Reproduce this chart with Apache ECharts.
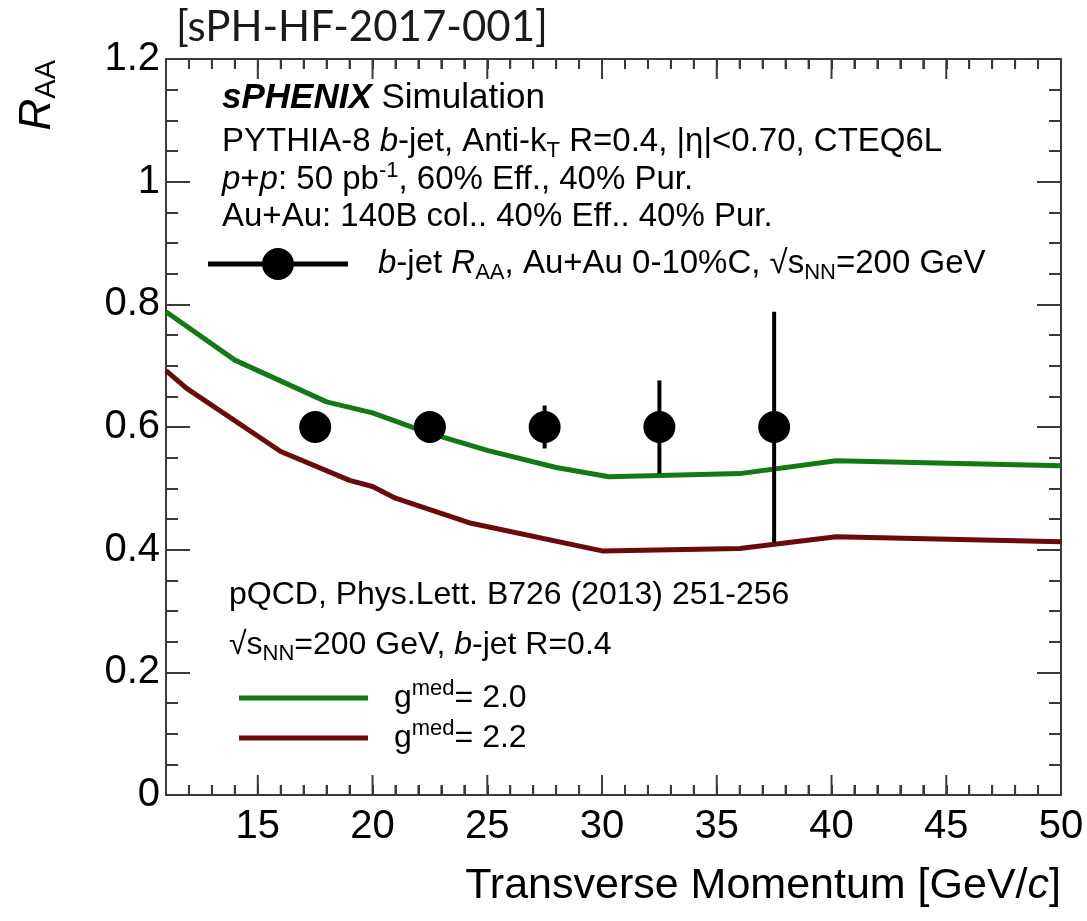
<!DOCTYPE html>
<html>
<head>
<meta charset="utf-8">
<script src="https://cdn.jsdelivr.net/npm/echarts@6/dist/echarts.min.js"></script>
<style>
  html, body { margin: 0; padding: 0; background: #fff; }
  #chart { width: 1087px; height: 921px; }
</style>
</head>
<body>
<div id="chart"></div>
<script>
// b-jet R_AA points (Au+Au 0-10% central) with statistical errors
const ptX   = [17.5, 22.5, 27.5, 32.5, 37.5];
const ptY   = [0.60, 0.60, 0.60, 0.60, 0.60];
const ptErr = [0.010, 0.020, 0.035, 0.076, 0.188];

// pQCD curves, g_med = 2.0 and g_med = 2.2
const g20X = [11, 14, 18, 20, 22.3, 25, 28, 30.3, 36, 40.2, 50];
const g20Y = [0.788, 0.709, 0.641, 0.623, 0.592, 0.562, 0.534, 0.519, 0.524, 0.545, 0.537];
const g22X = [11, 11.9, 16, 19, 20, 21, 24.3, 30, 36, 40.2, 50];
const g22Y = [0.692, 0.663, 0.560, 0.513, 0.503, 0.484, 0.443, 0.398, 0.402, 0.421, 0.413];

// axis ranges and tick values
const xMin = 11, xMax = 50;
const xMajorTicks = [15, 20, 25, 30, 35, 40, 45, 50];
const xMinorTicks = [12, 13, 14, 16, 17, 18, 19, 21, 22, 23, 24, 26, 27, 28, 29,
                     31, 32, 33, 34, 36, 37, 38, 39, 41, 42, 43, 44, 46, 47, 48, 49];
const yMin = 0, yMax = 1.2, yStep = 0.2;

const FONT = 'Liberation Sans, Arial, Helvetica, sans-serif';
const GREEN = '#137a13';
const DARKRED = '#6a0b0b';
const FRAME = '#3a3a3a';

const chart = echarts.init(document.getElementById('chart'));

function frameX(position, showLabel) {
  return {
    type: 'value', position, min: xMin, max: xMax, interval: 1,
    axisLine: { show: true, onZero: false, lineStyle: { color: FRAME, width: 2 } },
    axisTick: { show: true, inside: true, length: 10, lineStyle: { color: FRAME, width: 2 } },
    axisLabel: showLabel ? {
      show: true, customValues: xMajorTicks, margin: 12,
      fontFamily: FONT, fontSize: 40, color: '#000'
    } : { show: false },
    splitLine: { show: false }
  };
}
function frameY(position, showLabel) {
  return {
    type: 'value', position, min: yMin, max: yMax, interval: yStep,
    axisLine: { show: true, lineStyle: { color: FRAME, width: 2 } },
    axisTick: { show: true, inside: true, length: 24, lineStyle: { color: FRAME, width: 2 } },
    minorTick: { show: true, splitNumber: 4, length: 12, lineStyle: { color: FRAME, width: 2 } },
    axisLabel: showLabel ? {
      show: true, margin: 6, fontFamily: FONT, fontSize: 40, color: '#000'
    } : { show: false },
    splitLine: { show: false }
  };
}

// x tick marks on the bottom and top frame edges, placed through the axis scale
function xTickSeries(ticks, len) {
  return {
    type: 'custom', z: 6,
    data: ticks.map(v => [v, yMin]),
    renderItem: (params, api) => {
      const b = api.coord([api.value(0), yMin]);
      const t = api.coord([api.value(0), yMax]);
      return {
        type: 'group',
        children: [
          { type: 'line', shape: { x1: b[0], y1: b[1], x2: b[0], y2: b[1] - len },
            style: { stroke: FRAME, lineWidth: 2 } },
          { type: 'line', shape: { x1: t[0], y1: t[1], x2: t[0], y2: t[1] + len },
            style: { stroke: FRAME, lineWidth: 2 } }
        ]
      };
    }
  };
}

function makeRich(size) {
  const sub = Math.round(size * 0.68);
  return {
    i:   { fontFamily: FONT, fontSize: size, fontStyle: 'italic', fontWeight: 'normal', lineHeight: 40 },
    bi:  { fontFamily: FONT, fontSize: size, fontStyle: 'italic', fontWeight: 'bold', lineHeight: 40 },
    sub: { fontFamily: FONT, fontSize: sub, fontWeight: 'normal', lineHeight: sub, verticalAlign: 'bottom' },
    sup: { fontFamily: FONT, fontSize: sub, fontWeight: 'normal', lineHeight: sub, verticalAlign: 'top' },
    gap: { width: 21 },
    gap2: { width: 25 }
  };
}

// one line of annotation text, vertically centred on yMid
function textTitle(x, yMid, text, size) {
  return {
    left: x, top: yMid - 20, padding: 0, text,
    textStyle: { fontFamily: FONT, fontSize: size, fontWeight: 'normal', color: '#000',
      lineHeight: 40, rich: makeRich(size) }
  };
}

const legendText = {
  bjet: '{gap2|}{i|b}-jet {i|R}{sub|AA}, Au+Au 0-10%C, √s{sub|NN}=200 GeV',
  g20:  '{gap|}g{sup|med}= 2.0',
  g22:  '{gap|}g{sup|med}= 2.2'
};

const option = {
  animation: false,
  backgroundColor: '#fff',
  title: [
    {
      left: 176, top: 5, padding: 0, text: '[sPH-HF-2017-001]',
      textStyle: { fontFamily: 'Lato, Open Sans, sans-serif', fontSize: 42, fontWeight: 'normal',
        color: '#1a1a1a', lineHeight: 44 }
    },
    {
      right: 26, top: 864, padding: 0, text: 'Transverse Momentum [GeV/{i|c}]',
      textStyle: { fontFamily: FONT, fontSize: 43, fontWeight: 'normal', color: '#000', lineHeight: 44,
        rich: { i: { fontFamily: FONT, fontSize: 43, fontStyle: 'italic', fontWeight: 'normal', lineHeight: 44 } } }
    },
    textTitle(222, 98, '{bi|sPHENIX} Simulation', 35),
    textTitle(222, 142, 'PYTHIA-8 {i|b}-jet, Anti-k{sub|T} R=0.4, |η|<0.70, CTEQ6L', 33),
    textTitle(222, 180, '{i|p}+{i|p}: 50 pb{sup|-1}, 60% Eff., 40% Pur.', 33),
    textTitle(222, 217, 'Au+Au: 140B col.. 40% Eff.. 40% Pur.', 33),
    textTitle(229, 595, 'pQCD, Phys.Lett. B726 (2013) 251-256', 32),
    textTitle(229, 645, '√s{sub|NN}=200 GeV, {i|b}-jet R=0.4', 32)
  ],
  grid: { left: 166, top: 59, right: 26, bottom: 126 },
  xAxis: [frameX('bottom', true), frameX('top', false)],
  yAxis: [frameY('left', true), frameY('right', false)],
  legend: [
    {
      data: ['bjet'],
      left: 208, top: 244, padding: 0,
      itemWidth: 140, itemHeight: 32,
      icon: 'path://M0,13.5 L54,13.5 L54,18.5 L0,18.5 Z M86,13.5 L140,13.5 L140,18.5 L86,18.5 Z M54,16 A16,16 0 1,1 86,16 A16,16 0 1,1 54,16 Z',
      itemStyle: { color: '#000', opacity: 1 },
      selectedMode: false,
      formatter: name => legendText[name],
      textStyle: { fontFamily: FONT, fontSize: 33, color: '#000', lineHeight: 40, rich: makeRich(33) }
    },
    {
      data: ['g20', 'g22'],
      orient: 'vertical',
      left: 239, top: 678, padding: 0,
      itemWidth: 129, itemHeight: 5, itemGap: 0,
      icon: 'rect',
      selectedMode: false,
      formatter: name => legendText[name],
      textStyle: { fontFamily: FONT, fontSize: 32, color: '#000', lineHeight: 40, rich: makeRich(32) }
    }
  ],
  series: [
    xTickSeries(xMinorTicks, 10),
    xTickSeries(xMajorTicks, 20),
    {
      name: 'g20', type: 'line',
      data: g20X.map((x, i) => [x, g20Y[i]]),
      showSymbol: false, symbol: 'none',
      lineStyle: { color: GREEN, width: 5 }, itemStyle: { color: GREEN },
      z: 3
    },
    {
      name: 'g22', type: 'line',
      data: g22X.map((x, i) => [x, g22Y[i]]),
      showSymbol: false, symbol: 'none',
      lineStyle: { color: DARKRED, width: 5 }, itemStyle: { color: DARKRED },
      z: 3
    },
    {
      name: 'bjet-err', type: 'custom',
      data: ptX.map((x, i) => [x, ptY[i], ptErr[i]]),
      renderItem: (params, api) => {
        const x = api.value(0), y = api.value(1), e = api.value(2);
        const hi = api.coord([x, y + e]);
        const lo = api.coord([x, y - e]);
        return {
          type: 'line',
          shape: { x1: hi[0], y1: hi[1], x2: lo[0], y2: lo[1] },
          style: { stroke: '#000', lineWidth: 4 }
        };
      },
      z: 4
    },
    {
      name: 'bjet', type: 'scatter',
      data: ptX.map((x, i) => [x, ptY[i]]),
      symbol: 'circle', symbolSize: 32,
      itemStyle: { color: '#000', opacity: 1 },
      z: 5
    }
  ],
  graphic: [
    {
      type: 'text', x: 38, y: 60, rotation: Math.PI / 2, silent: true,
      style: {
        text: '{r|R}{s|AA}', align: 'right', verticalAlign: 'middle',
        fontFamily: FONT, fill: '#000',
        rich: {
          r: { fontFamily: FONT, fontSize: 44, fontStyle: 'italic', lineHeight: 46 },
          s: { fontFamily: FONT, fontSize: 29, lineHeight: 29, verticalAlign: 'bottom' }
        }
      }
    }
  ]
};

chart.setOption(option);
</script>
</body>
</html>
